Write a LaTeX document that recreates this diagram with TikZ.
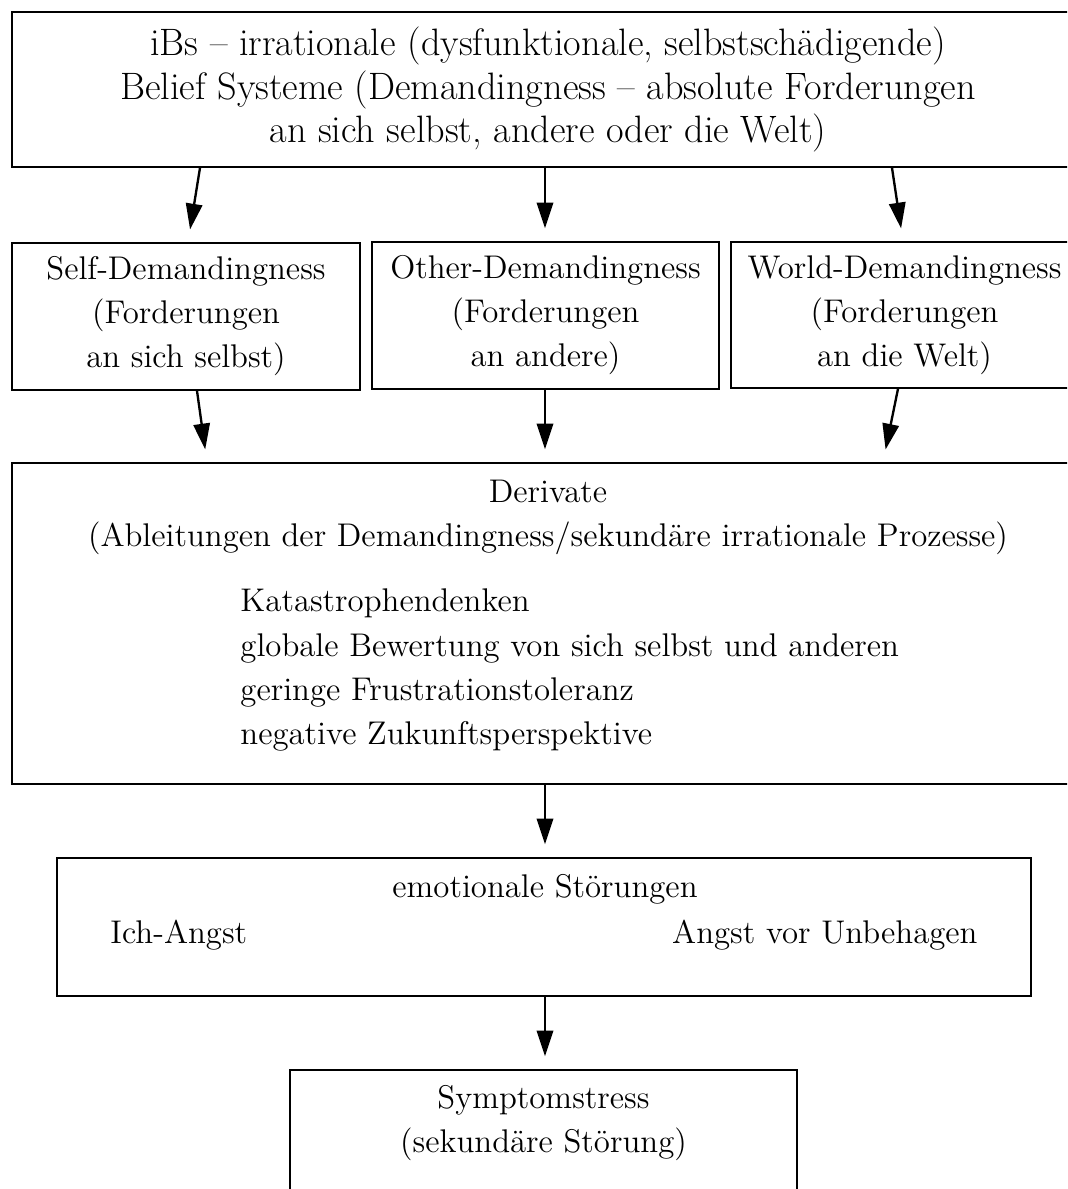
\documentclass[tikz,border=0pt]{standalone}
\usepackage{fontspec}
\usetikzlibrary{arrows.meta}
\tikzset{
  box/.style={draw, line width=0.7pt, inner sep=0pt, align=center},
  txt/.style={inner sep=0pt},
  arr/.style={-{Triangle[length=11pt,width=7pt]}, line width=1pt, shorten >=5.5pt}
}
\begin{document}
\begin{tikzpicture}[x=0.015cm, y=-0.015cm, font=\fontsize{14}{18.8}\selectfont]
\useasboundingbox (0,0) rectangle (1067,1189);
\clip (0,0) rectangle (1067,1189);
% beliefs
\node[box, minimum width=16.08cm, minimum height=2.325cm, font=\fontsize{16.3}{18.4}\selectfont] (ibs) at (548,89.5)
  {iBs -- irrationale (dysfunktionale, selbstschädigende)\\Belief Systeme (Demandingness -- absolute Forderungen\\an sich selbst, andere oder die Welt)};
% three kinds of demandingness
\node[box, minimum width=5.22cm, minimum height=2.205cm] (self) at (186,316.5)
  {Self-Demandingness\\(Forderungen\\an sich selbst)};
\node[box, minimum width=5.205cm, minimum height=2.205cm] (other) at (545.5,315.5)
  {Other-Demandingness\\(Forderungen\\an andere)};
\node[box, minimum width=5.205cm, minimum height=2.19cm] (world) at (904.5,315)
  {World-Demandingness\\(Forderungen\\an die Welt)};
% derivate
\node[box, minimum width=16.08cm, minimum height=4.815cm] (deriv) at (548,623.5) {};
\node[txt, align=center] (derivhead) at (548,517)
  {Derivate\\(Ableitungen der Demandingness/sekundäre irrationale Prozesse)};
\node[txt, align=left, anchor=west] (derivlist) at (240,670)
  {Katastrophendenken\\globale Bewertung von sich selbst und anderen\\geringe Frustrationstoleranz\\negative Zukunftsperspektive};
% emotions
\node[box, minimum width=14.61cm, minimum height=2.07cm] (emo) at (544,927) {};
\node[txt] (emohead) at (545,889) {emotionale Störungen};
\node[txt, anchor=west] (ich) at (110,935) {Ich-Angst};
\node[txt, anchor=east] (unbe) at (978,935) {Angst vor Unbehagen};
% symptom
\node[box, minimum width=7.605cm, minimum height=2.1cm] (sym) at (543.5,1140) {};
\node[txt, align=center] (symtext) at (543.5,1123) {Symptomstress\\(sekundäre Störung)};
% arrows
\draw[arr] (ibs.south -| 200,0) -- (self.north -| 188,0);
\draw[arr] (ibs.south -| 545,0) -- (other.north -| 545,0);
\draw[arr] (ibs.south -| 892,0) -- (world.north -| 903,0);
\draw[arr] (self.south -| 197,0) -- (deriv.north -| 207,0);
\draw[arr] (other.south -| 545,0) -- (deriv.north -| 545,0);
\draw[arr] (world.south -| 898,0) -- (deriv.north -| 883,0);
\draw[arr] (deriv.south -| 545,0) -- (emo.north -| 545,0);
\draw[arr] (emo.south -| 545,0) -- (sym.north -| 545,0);
\end{tikzpicture}
\end{document}
